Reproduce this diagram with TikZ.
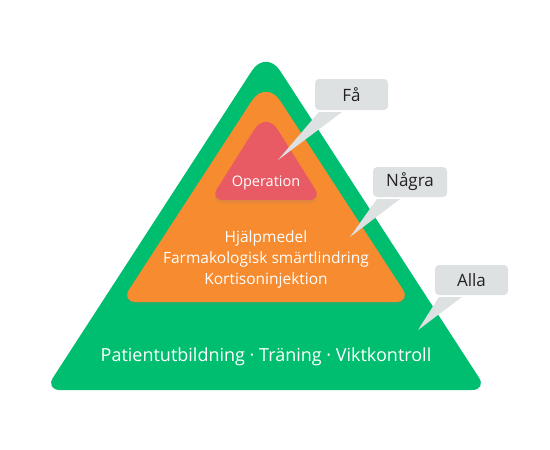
\documentclass[tikz,border=0pt]{standalone}
\usepackage{fontspec}
\setmainfont{Open Sans}
\usetikzlibrary{calc,shadows}
\definecolor{pgreen}{HTML}{00BE6F}
\definecolor{porange}{HTML}{F68B30}
\definecolor{pred}{HTML}{E85A64}
\definecolor{callgray}{HTML}{DDE1E1}
\definecolor{calltext}{HTML}{222222}
\begin{document}
\begin{tikzpicture}[x=1pt,y=-1pt,
  tiershadow/.style={drop shadow={opacity=0.16,shadow xshift=0pt,shadow yshift=-3pt}},
  tiertext/.style={text=white,align=center,inner sep=0pt},
  callbox/.style={fill=callgray,rounded corners=4pt,minimum width=73pt,minimum height=31pt,inner sep=0pt,text=calltext,font=\fontsize{17}{20}\selectfont},
  calltail/.style={fill=callgray}]
\useasboundingbox (0,0) rectangle (550,450);
% tiers
\fill[pgreen] (266,390) [rounded corners=15pt] -- (487,390) [rounded corners=26pt] -- (266,49) [rounded corners=15pt] -- (45,390) -- cycle;
\fill[porange,tiershadow] (266,302) [rounded corners=15pt] -- (411,302) [rounded corners=26pt] -- (266,79) [rounded corners=15pt] -- (121,302) -- cycle;
\fill[pred,tiershadow] (266,200) [rounded corners=13pt] -- (322,200) [rounded corners=22pt] -- (266,111) [rounded corners=13pt] -- (210,200) -- cycle;
% tier texts
\node[tiertext,font=\fontsize{14.5}{17}\selectfont] (op) at (266,183) {Operation};
\node[tiertext,font=\fontsize{15.5}{21}\selectfont] (mid) at (266,259) {Hjälpmedel\\Farmakologisk smärtlindring\\Kortisoninjektion};
\node[tiertext,font=\fontsize{18}{21}\selectfont] (base) at (266,357) {Patientutbildning · Träning · Viktkontroll};
% callouts
\coordinate (tipfa) at (278,160);
\coordinate (tipng) at (350,237);
\coordinate (tipal) at (418,330);
\node[callbox] (fa) at (351.5,94.5) {Få};
\node[callbox,minimum width=74pt,minimum height=30pt] (ng) at (410,182) {Några};
\node[callbox,minimum height=30pt] (al) at (471.5,280) {Alla};
\fill[calltail] ($(fa.south west)+(4,2)$) -- (tipfa) -- ($(fa.south west)+(27,2)$) -- cycle;
\fill[calltail] ($(ng.south west)+(4,2)$) -- (tipng) -- ($(ng.south west)+(27,2)$) -- cycle;
\fill[calltail] ($(al.south west)+(4,2)$) -- (tipal) -- ($(al.south west)+(27,2)$) -- cycle;
\end{tikzpicture}
\end{document}
